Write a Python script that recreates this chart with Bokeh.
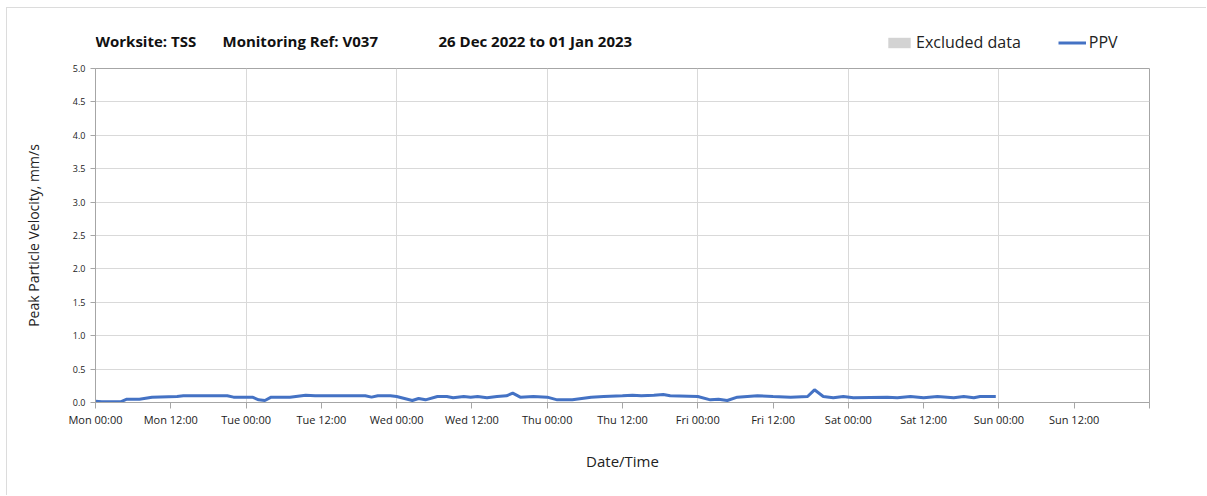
from bokeh.plotting import figure
from bokeh.layouts import column
from bokeh.models import FixedTicker, Legend, LegendItem, Label, Range1d, ColumnDataSource
from bokeh.embed import file_html
from bokeh.resources import INLINE

# Hours since Mon 26 Dec 2022 00:00
hours = [0, 1, 4, 5, 7, 9, 13, 14, 21, 22, 25, 26, 27, 28, 31, 33.5, 35, 43, 44, 45, 47, 48,
         50.5, 51.5, 52.6, 54.5, 56, 57, 58.7, 59.8, 60.9, 62.4, 64, 65.5, 66.5, 67.7, 69.8, 72,
         73.6, 76, 79, 81, 84, 85.6, 87, 89, 90.5, 91.6, 96, 98, 99.3, 100.7, 102.3, 105.5, 108,
         110.8, 113.5, 114.6, 116, 117.6, 119.2, 120.8, 126.2, 127.8, 129.9, 132, 134.2, 136.8,
         138.4, 140, 141, 143.5]
ppv = [0.02, 0.01, 0.01, 0.05, 0.05, 0.08, 0.09, 0.10, 0.10, 0.08, 0.08, 0.04, 0.03, 0.08, 0.08,
       0.11, 0.10, 0.10, 0.08, 0.10, 0.10, 0.09,
       0.03, 0.06, 0.04, 0.09, 0.09, 0.07, 0.09, 0.08, 0.09, 0.07, 0.09, 0.10, 0.14, 0.08, 0.09, 0.08,
       0.04, 0.04, 0.08, 0.09, 0.10, 0.11, 0.10, 0.11, 0.12, 0.10, 0.09, 0.04, 0.05, 0.03, 0.08,
       0.10, 0.09, 0.08, 0.09, 0.19, 0.09, 0.07, 0.09, 0.07, 0.08, 0.07, 0.09, 0.07, 0.09, 0.07,
       0.09, 0.07, 0.09, 0.09]

tick_hours = [0, 12, 24, 36, 48, 60, 72, 84, 96, 108, 120, 132, 144, 156, 168]
tick_labels = ["Mon 00:00", "Mon 12:00", "Tue 00:00", "Tue 12:00", "Wed 00:00", "Wed 12:00",
               "Thu 00:00", "Thu 12:00", "Fri 00:00", "Fri 12:00", "Sat 00:00", "Sat 12:00",
               "Sun 00:00", "Sun 12:00", ""]
day_hours = [0, 24, 48, 72, 96, 120, 144, 168]
y_ticks = [0, 0.5, 1, 1.5, 2, 2.5, 3, 3.5, 4, 4.5, 5]

title_parts = ["Worksite: TSS", "Monitoring Ref: V037", "26 Dec 2022 to 01 Jan 2023"]
series_names = ["Excluded data", "PPV"]

FONT = "Open Sans"
TXT = "#222222"
W = 1199

# ---------- header (title + legend); its frame is aligned with the chart frame ----------
hdr = figure(width=W, height=53, output_backend="svg", toolbar_location=None,
             x_range=Range1d(95, 1149), y_range=Range1d(0, 53),
             x_axis_type=None, y_axis_type=None, min_border=0)
hdr.outline_line_color = None
hdr.grid.visible = False

for tx, txt in zip([95, 222, 438], title_parts):
    hdr.add_layout(Label(x=tx, y=21, text=txt, text_font=FONT, text_font_size="15px",
                         text_font_style="bold", text_color="#111111",
                         text_baseline="middle"))

# legend proxies (kept outside the visible header range)
h_ex = hdr.quad(left=[-50], right=[-40], top=[-50], bottom=[-60],
                fill_color="#d3d3d3", line_color=None)
h_line = hdr.line(x=[-50, -40], y=[-50, -50], line_color="#4472C4", line_width=3)
legend = Legend(items=[LegendItem(label=series_names[0], renderers=[h_ex]),
                       LegendItem(label=series_names[1], renderers=[h_line])],
                orientation="horizontal", location=(790, 8),
                glyph_width=28, glyph_height=13, label_standoff=3, spacing=37,
                label_height=13,
                padding=0, margin=0, border_line_color=None, background_fill_alpha=0,
                label_text_font=FONT, label_text_font_size="16px", label_text_color=TXT)
hdr.add_layout(legend)

# ---------- main chart ----------
p = figure(width=W, height=434, output_backend="svg", toolbar_location=None,
           x_range=Range1d(0, 168), y_range=Range1d(0, 5),
           min_border_left=88, min_border_top=7, min_border_right=57, min_border_bottom=93)

p.outline_line_color = "#a6a6a6"
p.outline_line_width = 1

p.xgrid.ticker = FixedTicker(ticks=day_hours)
p.ygrid.ticker = FixedTicker(ticks=y_ticks)
p.xgrid.grid_line_color = "#d9d9d9"
p.ygrid.grid_line_color = "#d9d9d9"

p.xaxis.ticker = FixedTicker(ticks=tick_hours)
p.xaxis.major_label_overrides = {h: lab for h, lab in zip(tick_hours, tick_labels)}
p.xaxis.axis_label = "Date/Time"
p.xaxis.axis_label_text_font = FONT
p.xaxis.axis_label_text_font_size = "15px"
p.xaxis.axis_label_text_font_style = "normal"
p.xaxis.axis_label_text_color = TXT
p.xaxis.axis_label_standoff = 21
p.xaxis.major_label_text_font = FONT
p.xaxis.major_label_text_font_size = "11px"
p.xaxis.major_label_text_color = TXT
p.xaxis.major_label_standoff = 3
p.xaxis.major_tick_out = 6
p.xaxis.major_tick_in = 0
p.xaxis.minor_tick_out = 0
p.xaxis.minor_tick_in = 0
p.xaxis.axis_line_color = "#a6a6a6"
p.xaxis.major_tick_line_color = "#a6a6a6"

p.yaxis.ticker = FixedTicker(ticks=y_ticks)
p.yaxis.major_label_overrides = {v: f"{v:.1f}" for v in y_ticks}
p.yaxis.axis_label = "Peak Particle Velocity, mm/s"
p.yaxis.axis_label_text_font = FONT
p.yaxis.axis_label_text_font_size = "14px"
p.yaxis.axis_label_text_font_style = "normal"
p.yaxis.axis_label_text_color = TXT
p.yaxis.axis_label_standoff = 27
p.yaxis.major_label_text_font = FONT
p.yaxis.major_label_text_font_size = "9px"
p.yaxis.major_label_text_color = TXT
p.yaxis.major_label_standoff = 5
p.yaxis.major_tick_out = 5
p.yaxis.major_tick_in = 0
p.yaxis.minor_tick_out = 0
p.yaxis.minor_tick_in = 0
p.yaxis.axis_line_color = "#a6a6a6"
p.yaxis.major_tick_line_color = "#a6a6a6"

src = ColumnDataSource(dict(x=hours, y=ppv))
p.line("x", "y", source=src, line_color="#4472C4", line_width=3)

layout = column(hdr, p, spacing=0,
                styles={"margin-left": "6px", "margin-top": "7px",
                        "border-left": "1px solid #dcdcdc", "border-top": "1px solid #dcdcdc"})

open("out.html", "w").write(file_html(layout, INLINE))
